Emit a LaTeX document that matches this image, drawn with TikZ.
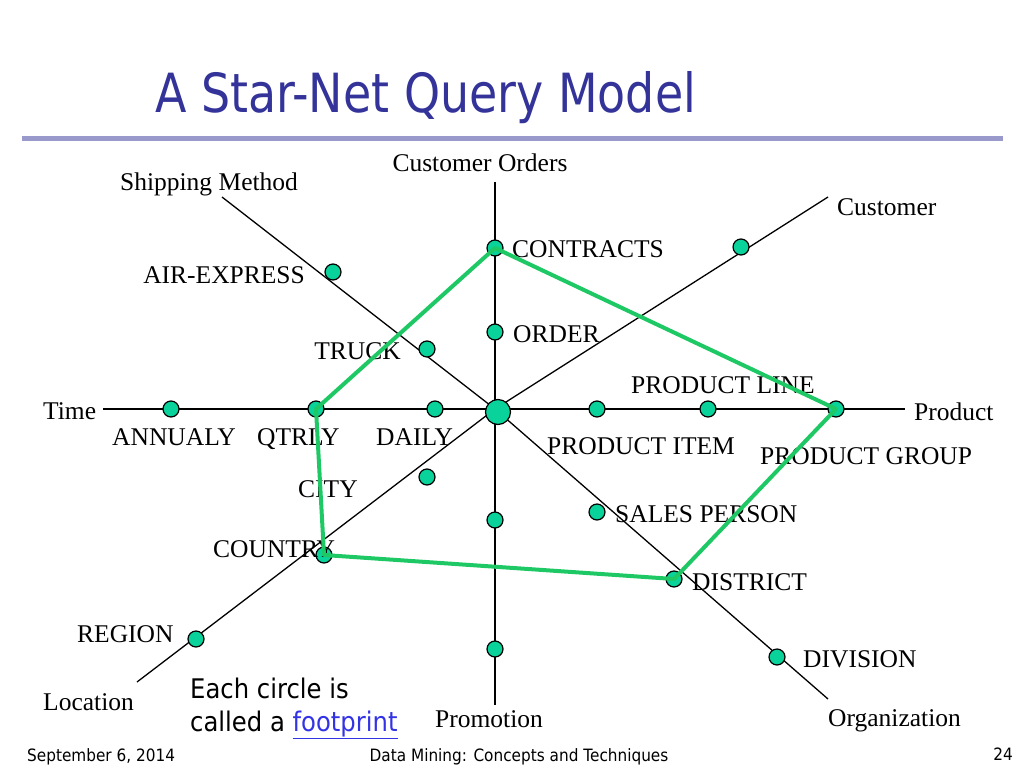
\documentclass[tikz,border=0pt]{standalone}
\usepackage{fontspec}
\setmainfont{Liberation Serif}
\newfontfamily\tahoma[FakeStretch=0.9]{DejaVu Sans}
\newfontfamily\titlefont[FakeStretch=0.85]{DejaVu Sans}
\usetikzlibrary{backgrounds}

\definecolor{titleblue}{RGB}{51,51,153}
\definecolor{rulepurple}{RGB}{153,153,204}
\definecolor{fpfill}{RGB}{10,210,155}
\definecolor{pathgreen}{RGB}{30,200,100}
\definecolor{linkblue}{RGB}{51,51,230}

\tikzset{
  fp/.style={circle,draw=black,fill=fpfill,line width=1.2pt,inner sep=0pt,minimum size=16pt},
  hub/.style={fp,minimum size=25pt},
  lbl/.style={inner sep=0pt,anchor=base west,font=\fontsize{25.5}{28}\selectfont},
  axis/.style={line width=1.3pt},
  foot/.style={inner sep=0pt,anchor=base,font=\tahoma\fontsize{17}{20}\selectfont}
}

\begin{document}
\begin{tikzpicture}[x=1pt,y=-1pt]
  \useasboundingbox (0,0) rectangle (1024,768);
  % タイトル
  \node[anchor=base west,inner sep=0pt,text=titleblue,font=\titlefont\fontsize{54}{60}\selectfont] (title) at (155,112) {A Star-Net Query Model};
  \draw[rulepurple,line width=5pt] (22,138) -- (1003,138);
  % 中心と足跡
  \coordinate (o) at (495,409);
  \node[hub] (hub) at (498,412) {};
  \foreach \n/\x/\y in {contracts/495/248, order/495/332, promoa/495/520, promob/495/649,
      annualy/171/409, qtrly/316/409, daily/435/409, item/597/409, pline/708/409, group/836/409,
      airexp/333/272, truck/427/349, custa/741/247,
      city/427/477, country/324/555, region/196/639,
      sales/597/512, district/674/579, division/777/657}
    \node[fp] (\n) at (\x,\y) {};
  % 軸の端
  \coordinate (orders) at (495,182);
  \coordinate (promo) at (495,705);
  \coordinate (time) at (103,409);
  \coordinate (product) at (905,409);
  \coordinate (ship) at (222,197);
  \coordinate (cust) at (828,197);
  \coordinate (loc) at (137,682);
  \coordinate (org) at (828,699);
  \begin{scope}[on background layer]
    \draw[axis] (orders) -- (promo);
    \draw[axis] (time) -- (product);
    \draw[axis] (ship) -- (o) -- (org);
    \draw[axis] (cust) -- (o) -- (loc);
  \end{scope}
  % 次元名
  \node[lbl,anchor=base] (l-orders) at (480,171) {Customer Orders};
  \node[lbl,anchor=base] (l-ship) at (209,190) {Shipping Method};
  \node[lbl] (l-cust) at (837,215) {Customer};
  \node[lbl] (l-time) at (43,419) {Time};
  \node[lbl] (l-product) at (914,420) {Product};
  \node[lbl] (l-loc) at (43,710) {Location};
  \node[lbl,anchor=base] (l-promo) at (489,727) {Promotion};
  \node[lbl] (l-org) at (828,726) {Organization};
  % 足跡のラベル
  \node[lbl] (l-contracts) at (512,257) {CONTRACTS};
  \node[lbl] (l-order) at (513,342) {ORDER};
  \node[lbl,anchor=base east] (l-airexp) at (305,283) {AIR-EXPRESS};
  \node[lbl,anchor=base east] (l-truck) at (401,359) {TRUCK};
  \node[lbl] (l-pline) at (631,393) {PRODUCT LINE};
  \node[lbl] (l-annualy) at (112,445) {ANNUALY};
  \node[lbl] (l-qtrly) at (257,445) {QTRLY};
  \node[lbl] (l-daily) at (376,445) {DAILY};
  \node[lbl] (l-item) at (547,454) {PRODUCT ITEM};
  \node[lbl] (l-group) at (760,464) {PRODUCT GROUP};
  \node[lbl] (l-city) at (298,497) {CITY};
  \node[lbl] (l-country) at (213,557) {COUNTRY};
  \node[lbl] (l-sales) at (615,522) {SALES PERSON};
  \node[lbl] (l-district) at (692,590) {DISTRICT};
  \node[lbl] (l-region) at (77,642) {REGION};
  \node[lbl] (l-division) at (803,667) {DIVISION};
  % 選ばれた足跡
  \draw[pathgreen,line width=4pt,line join=round] (contracts.center) -- (group.center)
    -- (district.center) -- (country.center) -- (qtrly.center) -- cycle;
  % 注記
  \node[inner sep=0pt,anchor=base west,font=\tahoma\fontsize{27}{30}\selectfont] (note) at (190,698) {Each circle is};
  \node[inner sep=0pt,anchor=base west,font=\tahoma\fontsize{27}{30}\selectfont] (note-b) at (190,731) {called a \textcolor{linkblue}{\underline{footprint}}};
  % フッター
  \node[foot,anchor=base west] (date) at (27,761) {September 6, 2014};
  \node[foot] (course) at (519,761) {Data Mining: Concepts and Techniques};
  \node[foot,anchor=base east] (page) at (1013,760) {24};
\end{tikzpicture}
\end{document}
